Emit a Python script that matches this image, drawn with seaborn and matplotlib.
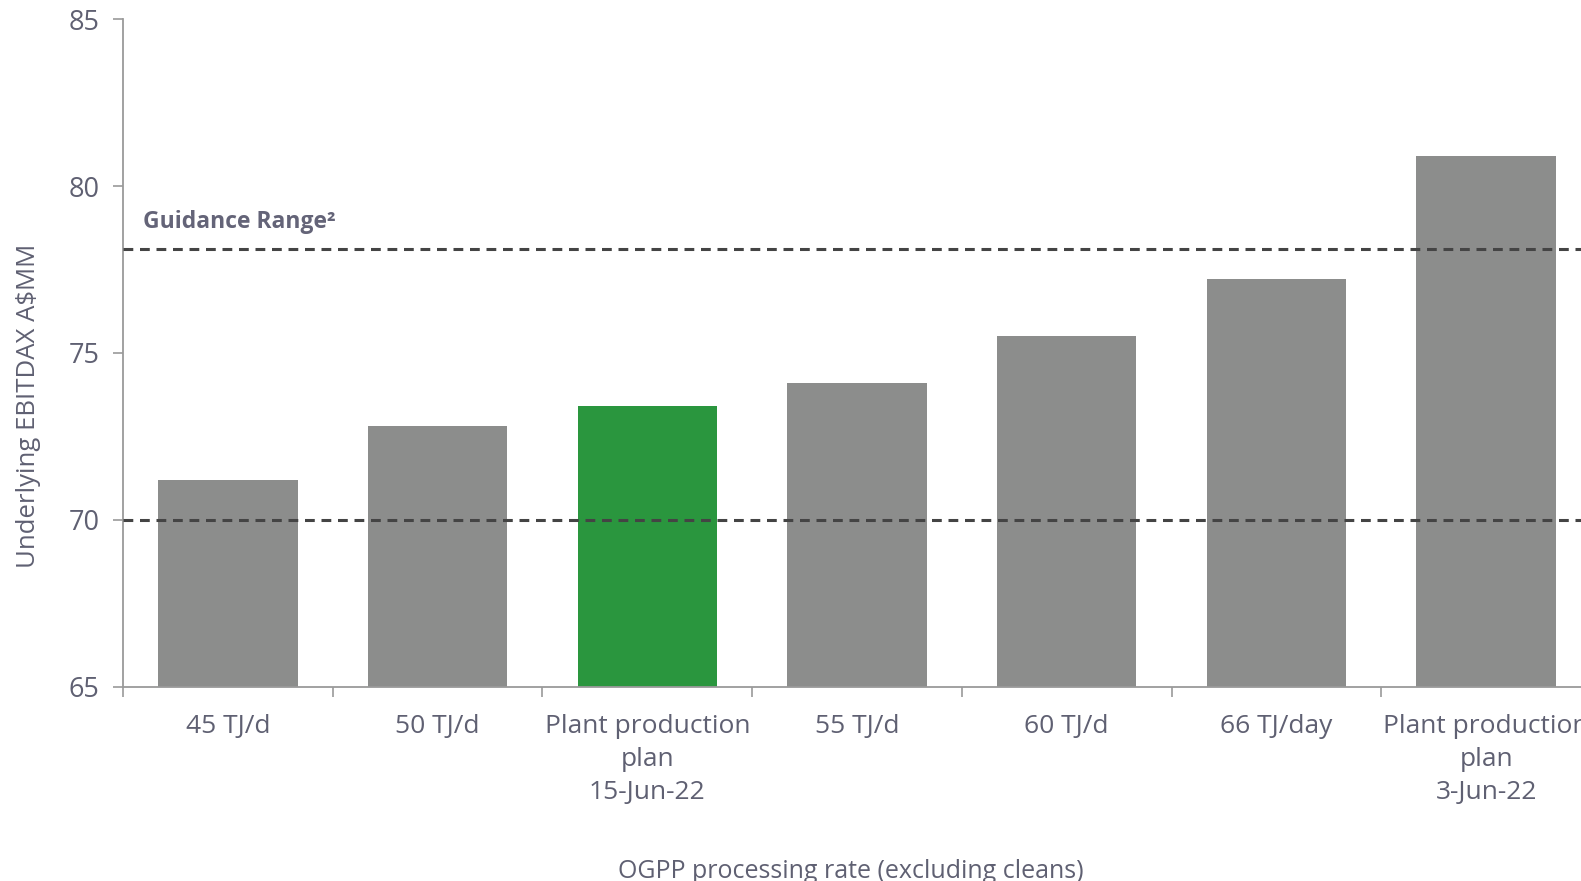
import matplotlib
matplotlib.use("Agg")
import matplotlib.pyplot as plt
import seaborn as sns
import pandas as pd

categories = ["45 TJ/d", "50 TJ/d", "Plant production\nplan\n15-Jun-22", "55 TJ/d",
              "60 TJ/d", "66 TJ/day", "Plant production\nplan\n3-Jun-22"]
values = [71.2, 72.8, 73.4, 74.1, 75.5, 77.2, 80.9]
bar_colors = ["#8c8d8c", "#8c8d8c", "#2a963e", "#8c8d8c", "#8c8d8c", "#8c8d8c", "#8c8d8c"]
guidance = [70.0, 78.1]
yticks = [65, 70, 75, 80, 85]

sns.set_theme(style="white")
plt.rcParams['font.family'] = ['Open Sans', 'DejaVu Sans']
text_color = "#5f6072"

df = pd.DataFrame({"cat": categories, "val": values})
fig = plt.figure(figsize=(15.81, 8.81), dpi=100)
ax = fig.add_axes([0.0778, 0.2207, 0.9285, 0.7575])

sns.barplot(data=df, x="cat", y="val", hue="cat", palette=bar_colors, width=0.665,
            legend=False, ax=ax, saturation=1, edgecolor="none")

ax.set_ylim(65, 85)
ax.set_xlim(-0.5, len(categories) - 0.5)
ax.set_yticks(yticks)
ax.set_yticklabels([str(t) for t in yticks])

for g in guidance:
    ax.axhline(g, color="#444444", lw=2.2, ls=(0, (3.2, 2.2)), zorder=3)

ax.text(-0.405, 78.1 + 0.45, "Guidance Range²", fontsize=16.5, fontweight="bold",
        color="#646478", ha="left", va="bottom")

ax.set_xticks(range(len(categories)))
ax.set_xticklabels(categories, linespacing=1.4)
ax.set_xticks([i - 0.5 for i in range(len(categories))], minor=True)
ax.tick_params(axis="x", which="major", length=0, pad=20, labelsize=19, labelcolor=text_color)
ax.tick_params(axis="x", which="minor", length=7, width=1.2, color="#9a9a9a", direction="out", bottom=True)
ax.tick_params(axis="y", length=7, width=1.2, color="#9a9a9a", direction="out", left=True,
               labelsize=19.5, labelcolor=text_color, pad=10)

for s in ["top", "right"]:
    ax.spines[s].set_visible(False)
for s in ["left", "bottom"]:
    ax.spines[s].set_color("#9a9a9a")
    ax.spines[s].set_linewidth(1.3)

ax.set_xlabel("OGPP processing rate (excluding cleans)", fontsize=18, color=text_color,
              labelpad=39, x=0.496)
ax.set_ylabel("Underlying EBITDAX A$MM", fontsize=18.5, color=text_color, labelpad=20, y=0.42)

fig.savefig("out.png", dpi=100)
